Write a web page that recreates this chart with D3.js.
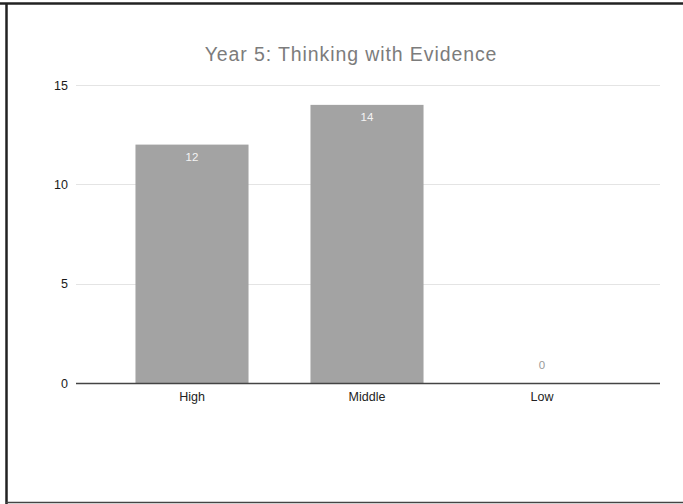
<!DOCTYPE html>
<html>
<head>
<meta charset="utf-8">
<script src="https://cdn.jsdelivr.net/npm/d3@7"></script>
<style>
  html, body { margin: 0; padding: 0; background: #fff; }
  svg { display: block; font-family: "Liberation Sans", Arial, sans-serif; }
</style>
</head>
<body>
<svg id="chart" width="683" height="504"></svg>
<script>
// Chart data
const title = "Year 5: Thinking with Evidence";
const categories = ["High", "Middle", "Low"];
const values = [12, 14, 0];
const yTicks = [0, 5, 10, 15];

const svg = d3.select("#chart");
const W = 683, H = 504;

// Page frame
svg.append("line").attr("x1", 0).attr("x2", W).attr("y1", 3.5).attr("y2", 3.5)
  .attr("stroke", "#222").attr("stroke-width", 2.5);
svg.append("line").attr("x1", 6.5).attr("x2", 6.5).attr("y1", 3).attr("y2", H)
  .attr("stroke", "#222").attr("stroke-width", 2.5);
svg.append("line").attr("x1", 6).attr("x2", W).attr("y1", 502.5).attr("y2", 502.5)
  .attr("stroke", "#444").attr("stroke-width", 1.5);

const plotLeft = 76, plotRight = 660;

const y = d3.scaleLinear().domain([0, 15]).range([383, 85]);
const x = d3.scaleBand().domain(categories)
  .range([104.5, 629.5])
  .paddingInner(0.354)
  .paddingOuter(0.177);

// Title
svg.append("text")
  .attr("x", 351).attr("y", 61)
  .attr("text-anchor", "middle")
  .attr("font-size", 19.5)
  .attr("letter-spacing", 0.9)
  .attr("fill", "#7c7c7c")
  .text(title);

// Gridlines
svg.append("g")
  .selectAll("line")
  .data(yTicks.filter(d => d !== 0))
  .join("line")
  .attr("x1", plotLeft).attr("x2", plotRight)
  .attr("y1", d => Math.round(y(d)) + 0.5).attr("y2", d => Math.round(y(d)) + 0.5)
  .attr("stroke", "#e4e4e4").attr("stroke-width", 1);

// Y axis labels
const yAxis = d3.axisLeft(y).tickValues(yTicks).tickSize(0).tickPadding(0);
const gy = svg.append("g").attr("transform", `translate(68,0)`).call(yAxis);
gy.select(".domain").remove();
gy.selectAll("text").attr("font-size", 12.5).attr("fill", "#1a1a1a")
  .attr("font-family", "Liberation Sans, Arial, sans-serif");

// Bars
svg.append("g")
  .selectAll("rect")
  .data(categories.map((c, i) => ({ c, v: values[i] })))
  .join("rect")
  .attr("x", d => x(d.c))
  .attr("width", x.bandwidth())
  .attr("y", d => y(d.v))
  .attr("height", d => y(0) - y(d.v))
  .attr("fill", "#a3a3a3");

// Value labels
svg.append("g")
  .selectAll("text")
  .data(categories.map((c, i) => ({ c, v: values[i] })))
  .join("text")
  .attr("x", d => x(d.c) + x.bandwidth() / 2)
  .attr("y", d => d.v > 0 ? y(d.v) + 16 : y(d.v) - 14)
  .attr("text-anchor", "middle")
  .attr("font-size", 11.5)
  .attr("fill", d => d.v > 0 ? "#f4f4f4" : "#9a9a9a")
  .text(d => d.v);

// X axis baseline and labels
const xAxis = d3.axisBottom(x).tickSize(0).tickPadding(9);
const gx = svg.append("g").attr("transform", `translate(0,${y(0)})`).call(xAxis);
gx.select(".domain").remove();
gx.selectAll("text").attr("font-size", 12.5).attr("fill", "#222")
  .attr("font-family", "Liberation Sans, Arial, sans-serif");
svg.append("line")
  .attr("x1", plotLeft).attr("x2", plotRight)
  .attr("y1", y(0) + 0.5).attr("y2", y(0) + 0.5)
  .attr("stroke", "#444").attr("stroke-width", 1.5);
</script>
</body>
</html>
